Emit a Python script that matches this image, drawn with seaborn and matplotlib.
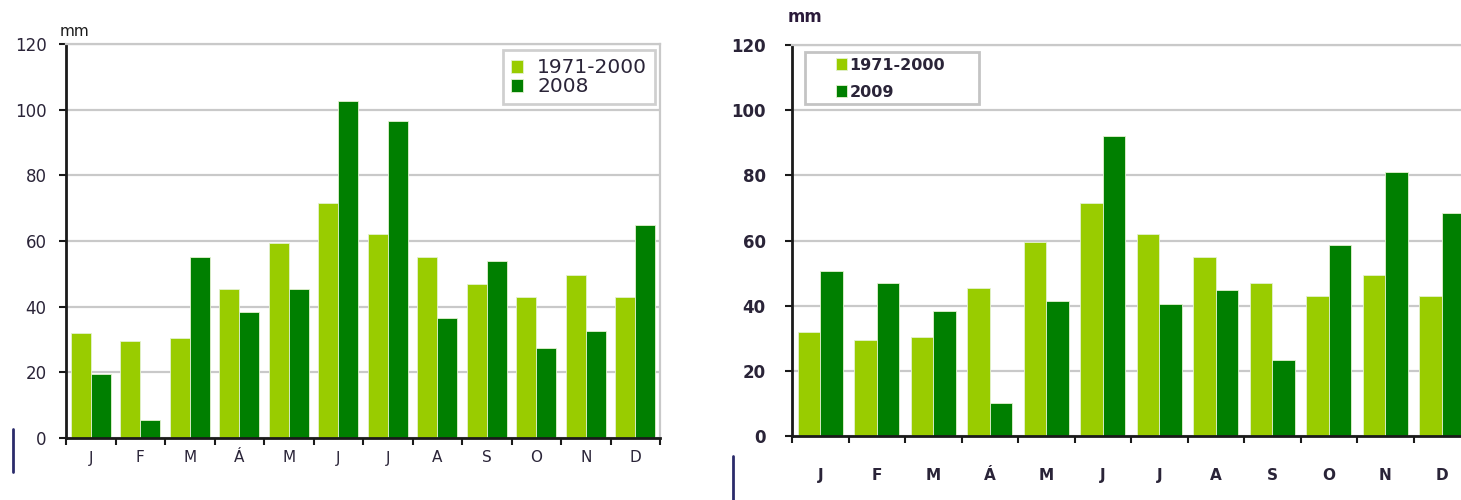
import matplotlib
matplotlib.use("Agg")
import matplotlib.pyplot as plt
from matplotlib.lines import Line2D
from matplotlib.patches import Rectangle
import seaborn as sns
import pandas as pd

# Monthly precipitation (mm)
months = ["J", "F", "M", "Á", "M", "J", "J", "A", "S", "O", "N", "D"]
normal_1971_2000 = [32, 29.5, 30.5, 45.5, 59.5, 71.5, 62, 55, 47, 43, 49.5, 43]
year_2008 = [19.5, 5.5, 55, 38.5, 45.5, 102.5, 96.5, 36.5, 54, 27.5, 32.5, 65]
year_2009 = [50.5, 47, 38.5, 10, 41.5, 92, 40.5, 44.8, 23.2, 58.5, 81, 68.3]
yticks = [0, 20, 40, 60, 80, 100, 120]

LIGHT = "#99cc00"
DARK = "#007f00"
TEXT = "#2a2438"
GRID = "#c9c9c9"
W, H = 1461, 500


def long_frame(series_a, label_a, series_b, label_b):
    rows = []
    for i in range(len(months)):
        rows.append({"pos": i, "serie": label_a, "mm": series_a[i]})
        rows.append({"pos": i, "serie": label_b, "mm": series_b[i]})
    return pd.DataFrame(rows)


def draw(ax, df, labels, bold, tick_size, xlab_pad, ylab_pad):
    sns.barplot(data=df, x="pos", y="mm", hue="serie", hue_order=labels,
                palette=[LIGHT, DARK], width=0.8, ax=ax, errorbar=None,
                edgecolor="#e4f2d0", linewidth=0.6, saturation=1)
    ax.set_xlim(-0.5, 11.5)
    ax.set_ylim(0, 120)
    ax.set_yticks(yticks)
    weight = "bold" if bold else "normal"
    ax.set_yticklabels([str(v) for v in yticks], fontsize=tick_size,
                       color=TEXT, fontweight=weight)
    ax.set_xticks(range(12))
    ax.set_xticklabels(months, fontsize=tick_size - 1, color=TEXT,
                       fontweight=weight)
    ax.set_xticks([i - 0.5 for i in range(13)], minor=True)
    ax.tick_params(axis="x", which="major", bottom=True, length=0, pad=xlab_pad)
    ax.tick_params(axis="x", which="minor", bottom=True, length=5, width=1.5,
                   color="#1a1a1a", direction="out")
    ax.tick_params(axis="y", which="major", left=True, length=5, width=1.5,
                   color="#1a1a1a", direction="out", pad=ylab_pad)
    ax.set_xlabel("")
    ax.set_ylabel("")
    ax.yaxis.grid(True, color=GRID, linewidth=1.6)
    ax.xaxis.grid(False)
    ax.set_axisbelow(True)
    for side in ("left", "bottom"):
        ax.spines[side].set_color("#1a1a1a")
        ax.spines[side].set_linewidth(2)
    for side in ("right", "top"):
        ax.spines[side].set_color(GRID)
        ax.spines[side].set_linewidth(1.6)
    ax.spines["bottom"].set_zorder(5)


sns.set_theme(style="white")
plt.rcParams["font.family"] = ["DejaVu Sans"]

fig = plt.figure(figsize=(W / 100, H / 100), dpi=100)
fig.patch.set_facecolor("white")

# 2008 panel
ax1 = fig.add_axes([66 / W, 1 - 438 / H, (660 - 66) / W, (438 - 44) / H])
df1 = long_frame(normal_1971_2000, "1971-2000", year_2008, "2008")
draw(ax1, df1, ["1971-2000", "2008"], bold=False, tick_size=12,
     xlab_pad=9, ylab_pad=9)
leg1 = ax1.legend(loc="upper right", bbox_to_anchor=(0.992, 0.984), fontsize=14.5,
                  frameon=True, fancybox=False, handlelength=0.6,
                  handleheight=0.6, handletextpad=0.7, labelspacing=0.0,
                  borderpad=0.4, borderaxespad=0)
leg1.get_frame().set_edgecolor("#c4c4c4")
leg1.get_frame().set_linewidth(2)
for t in leg1.get_texts():
    t.set_color(TEXT)
fig.text(60 / W, 1 - 31 / H, "mm", fontsize=11, color="#1a1a1a",
         va="center", ha="left")

# 2009 panel (extends past the right edge of the figure)
ax2 = fig.add_axes([792 / W, 1 - 436 / H, (1470 - 792) / W, (436 - 45) / H])
df2 = long_frame(normal_1971_2000, "1971-2000", year_2009, "2009")
draw(ax2, df2, ["1971-2000", "2009"], bold=True, tick_size=12,
     xlab_pad=23, ylab_pad=14)
leg2 = ax2.legend(loc="upper left", bbox_to_anchor=((831 - 792) / (1470 - 792), 0.98),
                  frameon=False, handlelength=0.7, handleheight=0.7,
                  handletextpad=0.15, labelspacing=0.75, borderpad=0.3,
                  borderaxespad=0, prop={"weight": "bold", "size": 11.5})
for t in leg2.get_texts():
    t.set_color(TEXT)
fig.add_artist(Rectangle((805 / W, 1 - 104 / H), (979 - 805) / W, (104 - 52) / H,
                         transform=fig.transFigure, fill=False,
                         edgecolor="#c4c4c4", linewidth=2, zorder=10))
fig.text(788 / W, 1 - 17 / H, "mm", fontsize=12, color="#2a1a3a",
         va="center", ha="left", fontweight="bold")

# thin vertical marks below each panel
fig.add_artist(Line2D([13 / W, 13 / W], [1 - 472 / H, 1 - 429 / H],
                      color="#2b2b6b", linewidth=2))
fig.add_artist(Line2D([733 / W, 733 / W], [0, 1 - 456 / H],
                      color="#2b2b6b", linewidth=2))

fig.savefig("out.png", dpi=100, facecolor="white")
